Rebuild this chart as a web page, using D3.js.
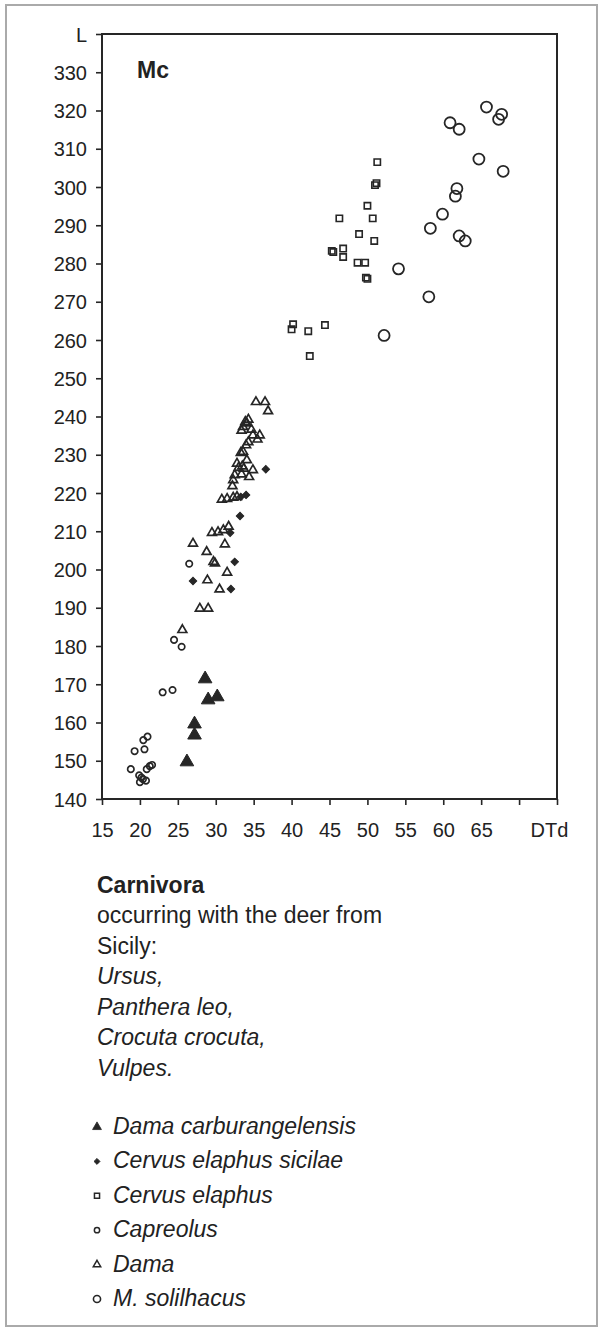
<!DOCTYPE html>
<html>
<head>
<meta charset="utf-8">
<script src="https://cdn.jsdelivr.net/npm/d3@7"></script>
<style>
  html, body { margin: 0; padding: 0; background: #fff; }
  svg { display: block; }
  text { font-family: "Liberation Sans", Arial, sans-serif; fill: #222; }
</style>
</head>
<body>
<svg id="chart" width="602" height="1332"></svg>
<script>
// ---------- data (x = DTd, y = L) ----------
const damaCarburangelensis = [
  [28.6, 171.4], [29.0, 165.9], [30.2, 166.7], [27.2, 159.6], [27.2, 156.7], [26.2, 149.7]
];
const cervusElaphusSicilae = [
  [36.6, 226.2], [33.3, 219.0], [34.0, 219.5], [33.2, 214.0], [31.9, 209.6],
  [32.5, 202.0], [27.0, 197.0], [32.0, 194.9]
];
const cervusElaphus = [
  [51.3, 306.5], [51.2, 301.0], [51.0, 300.5], [50.0, 295.1], [46.3, 291.8], [50.7, 291.8],
  [48.9, 287.7], [50.9, 285.9], [45.3, 283.3], [45.5, 283.0], [46.8, 283.9], [46.8, 281.7],
  [48.7, 280.2], [49.7, 280.2], [49.8, 276.3], [50.0, 276.0], [40.2, 264.1], [40.0, 262.8],
  [42.2, 262.3], [44.4, 263.9], [42.4, 255.8]
];
const capreolus = [
  [26.5, 201.5], [24.5, 181.6], [25.5, 179.8], [23.0, 167.9], [24.3, 168.5],
  [20.45, 155.4], [21.0, 156.3], [19.3, 152.5], [20.6, 153.0], [18.8, 147.8],
  [21.3, 148.6], [20.9, 147.8], [21.6, 148.9], [19.9, 146.2], [20.4, 145.2],
  [20.0, 144.4], [20.8, 144.8], [20.2, 145.6]
];
const dama = [
  [35.3, 243.8], [36.5, 243.8], [36.9, 241.4], [34.3, 239.2], [34.1, 238.2], [33.6, 237.3],
  [34.7, 236.6], [33.4, 236.3], [35.8, 235.1], [34.9, 235.1], [35.5, 234.0], [34.3, 233.3],
  [34.0, 232.5], [33.6, 230.8], [33.3, 230.5], [34.1, 228.6], [32.8, 227.7], [33.0, 226.6],
  [33.7, 226.4], [34.9, 226.0], [33.4, 224.9], [32.5, 224.7], [34.4, 224.2], [32.3, 223.4],
  [32.2, 221.8], [30.8, 218.3], [31.5, 218.5], [32.3, 218.8], [32.8, 219.0], [29.5, 209.6],
  [30.3, 209.8], [31.0, 210.3], [31.7, 211.2], [27.0, 206.8], [28.8, 204.6], [31.2, 206.6],
  [29.7, 202.0], [29.9, 201.6], [31.5, 199.2], [28.9, 197.2], [30.5, 194.8], [27.9, 189.8],
  [29.0, 189.8], [25.6, 184.2], [33.9, 238.6], [33.5, 227.0]
];
const mSolilhacus = [
  [65.7, 320.9], [67.7, 319.0], [67.3, 317.7], [60.9, 316.8], [62.1, 315.1], [64.7, 307.3],
  [67.9, 304.1], [61.8, 299.6], [61.6, 297.6], [59.9, 292.9], [58.3, 289.2], [62.1, 287.2],
  [62.9, 285.9], [54.1, 278.6], [58.1, 271.3], [52.2, 261.2]
];

const yTicks = [140, 150, 160, 170, 180, 190, 200, 210, 220, 230, 240, 250, 260, 270, 280, 290, 300, 310, 320, 330, 340];
const yTickLabels = ["140","150","160","170","180","190","200","210","220","230","240","250","260","270","280","290","300","310","320","330","L"];
const xTicks = [15, 20, 25, 30, 35, 40, 45, 50, 55, 60, 65, 70, 75];
const xTickLabels = ["15","20","25","30","35","40","45","50","55","60","65","","DTd"];

const panelLabel = "Mc";
const noteTitle = "Carnivora";
const noteLines = ["occurring with the deer from", "Sicily:"];
const noteItalicLines = ["Ursus,", "Panthera leo,", "Crocuta crocuta,", "Vulpes."];
const legendLabels = ["Dama carburangelensis", "Cervus elaphus sicilae", "Cervus elaphus", "Capreolus", "Dama", "M. solilhacus"];

// ---------- drawing ----------
const svg = d3.select("#chart");
const ink = "#262626";

// outer border
svg.append("rect").attr("x", 6).attr("y", 5).attr("width", 591).attr("height", 1321)
  .attr("fill", "none").attr("stroke", "#aaa").attr("stroke-width", 2);

const pLeft = 102, pRight = 557, pTop = 34, pBottom = 799;
const x = d3.scaleLinear().domain([15, 75]).range([pLeft, pRight]);
const y = d3.scaleLinear().domain([140, 340]).range([pBottom, pTop]);

// axes
const yAxis = svg.append("g").attr("transform", `translate(${pLeft},0)`)
  .call(d3.axisLeft(y).tickValues(yTicks).tickSize(6).tickPadding(9)
    .tickFormat((d, i) => yTickLabels[i]));
yAxis.select(".domain").remove();
yAxis.selectAll("line").attr("stroke", ink).attr("stroke-width", 1.6);
yAxis.selectAll("text").attr("font-size", 20).attr("fill", "#222")
  .attr("font-family", "Liberation Sans, Arial, sans-serif").attr("dy", "0.35em");

const xAxis = svg.append("g").attr("transform", `translate(0,${pBottom})`)
  .call(d3.axisBottom(x).tickValues(xTicks).tickSize(6).tickPadding(10)
    .tickFormat((d, i) => xTickLabels[i]));
xAxis.select(".domain").remove();
xAxis.selectAll("line").attr("stroke", ink).attr("stroke-width", 1.6);
xAxis.selectAll("text").attr("font-size", 20).attr("fill", "#222")
  .attr("font-family", "Liberation Sans, Arial, sans-serif")
  .attr("y", 38).attr("dy", 0)
  .attr("dx", (d, i) => xTickLabels[i] === "DTd" ? -8 : 0);

// frame
svg.append("rect").attr("x", pLeft).attr("y", pTop).attr("width", pRight - pLeft).attr("height", pBottom - pTop)
  .attr("fill", "none").attr("stroke", ink).attr("stroke-width", 2);

svg.append("text").attr("x", 137).attr("y", 78).attr("font-size", 23).attr("font-weight", "bold")
  .text(panelLabel);

// series definitions (symbol styles)
const series = [
  { data: capreolus,            type: d3.symbolCircle,   size: 32,  fill: "none", rot: 0,  sw: 1.7 },
  { data: cervusElaphus,        type: d3.symbolSquare,   size: 40,  fill: "none", rot: 0,  sw: 1.6 },
  { data: mSolilhacus,          type: d3.symbolCircle,   size: 95,  fill: "none", rot: 0,  sw: 1.8 },
  { data: dama,                 type: d3.symbolTriangle, size: 34,  fill: "none", rot: 0,  sw: 1.7 },
  { data: cervusElaphusSicilae, type: d3.symbolSquare,   size: 28,  fill: ink,    rot: 45, sw: 1 },
  { data: damaCarburangelensis, type: d3.symbolTriangle, size: 80,  fill: ink,    rot: 0,  sw: 1 }
];

series.forEach(s => {
  svg.append("g").selectAll("path").data(s.data).join("path")
    .attr("d", d3.symbol().type(s.type).size(s.size))
    .attr("transform", d => `translate(${x(d[0])},${y(d[1])}) rotate(${s.rot})`)
    .attr("fill", s.fill).attr("stroke", ink).attr("stroke-width", s.sw);
});

// note text
const note = svg.append("g");
note.append("text").attr("x", 97).attr("y", 893).attr("font-size", 23).attr("font-weight", "bold").text(noteTitle);
noteLines.forEach((t, i) => {
  note.append("text").attr("x", 97).attr("y", 923 + i * 31).attr("font-size", 23).text(t);
});
noteItalicLines.forEach((t, i) => {
  note.append("text").attr("x", 97).attr("y", 984 + i * 30.7).attr("font-size", 23)
    .attr("font-style", "italic").text(t);
});

// legend
const legendSymbols = [
  { type: d3.symbolTriangle, size: 34, fill: ink,    rot: 0,  sw: 0.8 },
  { type: d3.symbolSquare,   size: 18, fill: ink,    rot: 45, sw: 0.8 },
  { type: d3.symbolSquare,   size: 26, fill: "none", rot: 0,  sw: 1.5 },
  { type: d3.symbolCircle,   size: 22, fill: "none", rot: 0,  sw: 1.5 },
  { type: d3.symbolTriangle, size: 24, fill: "none", rot: 0,  sw: 1.5 },
  { type: d3.symbolCircle,   size: 40, fill: "none", rot: 0,  sw: 1.6 }
];
const legend = svg.append("g");
legendLabels.forEach((lab, i) => {
  const by = 1134 + i * 34.4;
  const s = legendSymbols[i];
  legend.append("path").attr("d", d3.symbol().type(s.type).size(s.size)())
    .attr("transform", `translate(97,${by - 7}) rotate(${s.rot})`)
    .attr("fill", s.fill).attr("stroke", ink).attr("stroke-width", s.sw);
  legend.append("text").attr("x", 113).attr("y", by).attr("font-size", 23)
    .attr("font-style", "italic").text(lab);
});
</script>
</body>
</html>
